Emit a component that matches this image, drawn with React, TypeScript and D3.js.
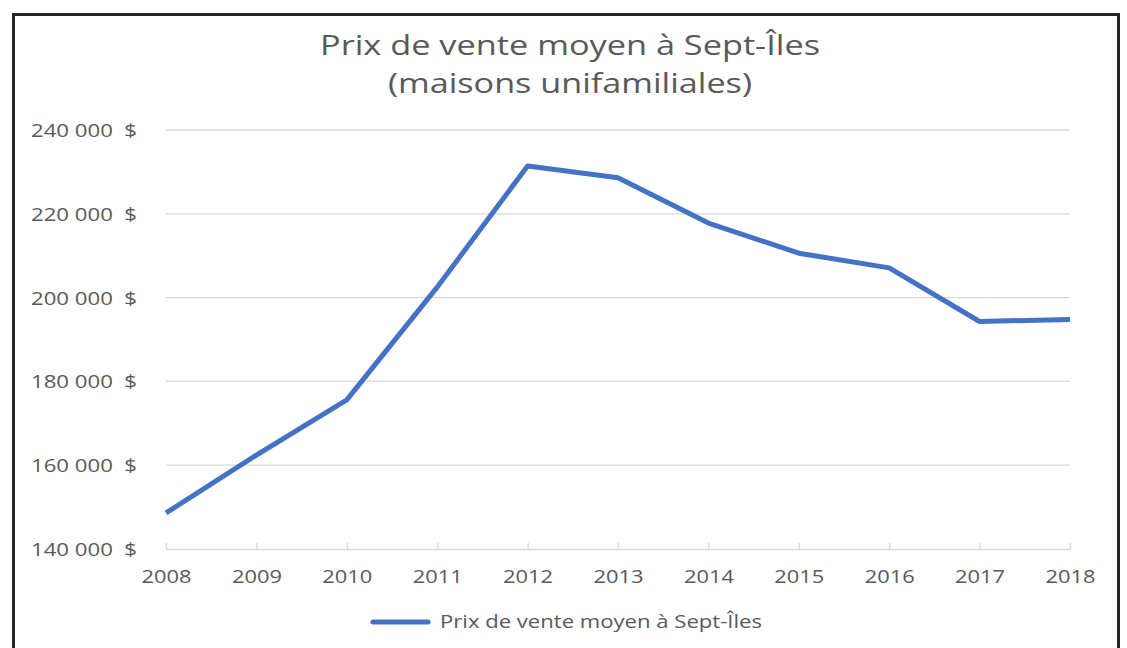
import * as d3 from 'd3';
import { useEffect, useRef } from 'react';

const years = [2008, 2009, 2010, 2011, 2012, 2013, 2014, 2015, 2016, 2017, 2018];
const prices = [148600, 162400, 175600, 202500, 231400, 228600, 217800, 210600, 207100, 194300, 194800];
const yTicks = [140000, 160000, 180000, 200000, 220000, 240000];
const titleLines = ['Prix de vente moyen à Sept-Îles', '(maisons unifamiliales)'];
const seriesName = 'Prix de vente moyen à Sept-Îles';

const W = 1127, H = 648;
const FONT = '"Open Sans", "Noto Sans", sans-serif';
const TEXT = '#595959';
const GRID = '#d9d9d9';
const BLUE = '#4472C4';

const fmt = (v: number) => d3.format(',')(v).replace(/,/g, ' ') + '  $';

export default function App() {
  const ref = useRef<SVGSVGElement>(null);

  useEffect(() => {
    const svg = d3.select(ref.current);
    svg.selectAll('*').remove();

    const x = d3.scaleLinear().domain([2008, 2018]).range([166, 1070]);
    const y = d3.scaleLinear().domain([140000, 240000]).range([549, 130]);

    svg.append('rect').attr('width', W).attr('height', H).attr('fill', '#fff');

    // chart frame
    svg.append('rect')
      .attr('x', 13.5).attr('y', 14.5).attr('width', 1105).attr('height', 700)
      .attr('fill', 'none').attr('stroke', '#262626').attr('stroke-width', 3);

    // title
    titleLines.forEach((t, i) => {
      svg.append('text')
        .attr('x', 570).attr('y', 55 + i * 38)
        .attr('text-anchor', 'middle')
        .attr('font-family', FONT).attr('font-size', 28).attr('fill', TEXT)
        .attr('textLength', i === 0 ? 500 : 364).attr('lengthAdjust', 'spacingAndGlyphs')
        .text(t);
    });

    // gridlines
    svg.append('g').selectAll('line').data(yTicks.slice(1)).join('line')
      .attr('x1', 166).attr('x2', 1070)
      .attr('y1', (d) => y(d)).attr('y2', (d) => y(d))
      .attr('stroke', GRID).attr('stroke-width', 1.3);

    // y labels
    svg.append('g').selectAll('text').data(yTicks).join('text')
      .attr('x', 137).attr('y', (d) => y(d) + 7)
      .attr('text-anchor', 'end')
      .attr('font-family', FONT).attr('font-size', 19).attr('fill', TEXT)
      .attr('textLength', 106).attr('lengthAdjust', 'spacingAndGlyphs')
      .style('white-space', 'pre')
      .text((d) => fmt(d));

    // x axis
    const xa = svg.append('g')
      .attr('transform', `translate(0,${y(140000)})`)
      .call(d3.axisBottom(x).tickValues(years).tickFormat(d3.format('d')).tickSize(-6).tickSizeOuter(0));
    xa.select('.domain').attr('stroke', GRID).attr('stroke-width', 1.5);
    xa.selectAll('.tick line').attr('stroke', GRID).attr('stroke-width', 1.5);
    xa.selectAll('.tick text')
      .attr('y', 0).attr('dy', 34)
      .attr('font-family', FONT).attr('font-size', 18.5).attr('fill', TEXT)
      .attr('textLength', 50).attr('lengthAdjust', 'spacingAndGlyphs');

    // series line
    const line = d3.line<number>()
      .x((_, i) => x(years[i]))
      .y((d) => y(d));
    svg.append('path')
      .datum(prices)
      .attr('d', line)
      .attr('fill', 'none').attr('stroke', BLUE).attr('stroke-width', 5)
      .attr('stroke-linejoin', 'round');

    // legend
    svg.append('line')
      .attr('x1', 373).attr('x2', 428).attr('y1', 622).attr('y2', 622)
      .attr('stroke', BLUE).attr('stroke-width', 5).attr('stroke-linecap', 'round');
    svg.append('text')
      .attr('x', 440).attr('y', 628)
      .attr('font-family', FONT).attr('font-size', 18.5).attr('fill', TEXT)
      .attr('textLength', 322).attr('lengthAdjust', 'spacingAndGlyphs')
      .text(seriesName);
  }, []);

  return (
    <div style={{ position: 'absolute', left: 0, top: 0 }}>
      <svg ref={ref} width={W} height={H} style={{ display: 'block' }} />
    </div>
  );
}
